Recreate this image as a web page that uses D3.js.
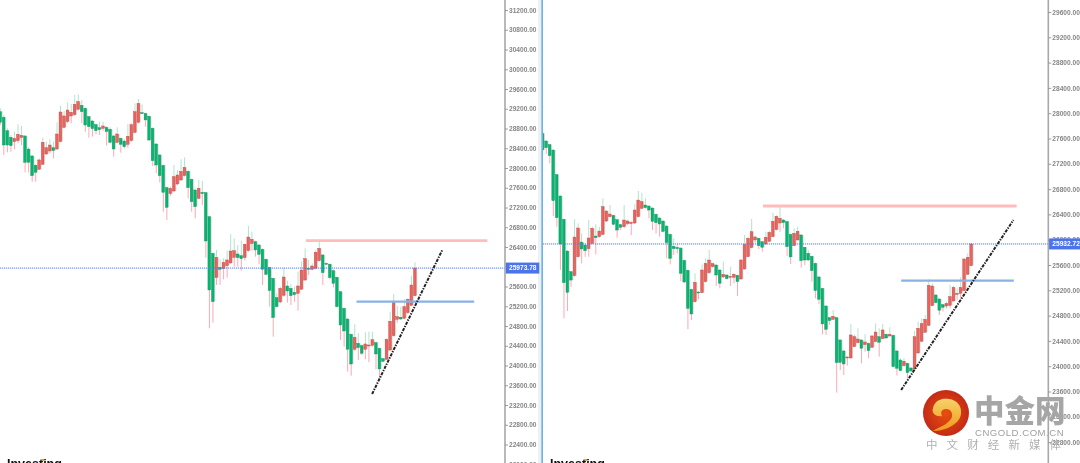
<!DOCTYPE html>
<html><head><meta charset="utf-8">
<style>html,body{margin:0;padding:0;background:#fff;overflow:hidden}svg{display:block;filter:blur(0.35px)}</style>
<script src="https://cdnjs.cloudflare.com/ajax/libs/d3/7.8.5/d3.min.js"></script>
</head><body><div id="c"></div>
<script>
// LEFT PANEL
const leftDir="GGGGRRRGGGGRRRRGRRRRRRRGGGGGGRGGGRGGRRRRGGGGGGGGRRRRRGGGRGGGGRGRRRRGGRRRGGGGGGGRRGGGRRRGRRRGGGGGGGGGRGGRRRGGGRRRRGRRRR";
const leftTop=[29141,29027,28757,28622,28601,28682,28662,28649,28385,28244,28055,28163,28520,28412,28466,28412,28689,29135,29054,29175,29128,29290,29344,29270,29209,29040,28952,28878,28817,28851,28824,28784,28649,28689,28601,28547,28642,28878,29141,29310,29121,29107,29047,28804,28487,28264,28055,27602,27589,27825,27859,27933,28014,27933,27771,27555,27589,27508,27501,27015,26272,26192,25989,26090,26138,26320,26327,26259,26225,26455,26603,26556,26509,26441,26354,26151,25989,25766,25375,25564,25793,25611,25564,25483,25611,25935,26165,25969,26016,26293,26374,26239,26070,26050,25922,25787,25496,25159,24943,24632,24571,24450,24403,24437,24416,24524,24464,24349,24140,24531,24895,25280,24990,24977,25193,25341,25631,25973.78];
const leftBottom=[28925,28466,28466,28453,28534,28554,28615,28115,28115,27845,27913,27974,28075,28284,28345,28352,28385,28534,28824,28939,29054,29081,29189,29141,28871,28838,28797,28757,28777,28804,28736,28520,28385,28520,28480,28433,28480,28554,28723,28925,29107,28973,28567,28149,28061,27845,27508,27204,27481,27535,27677,27757,27845,27602,27319,27218,27386,27481,26522,25530,25294,25780,25949,25962,26023,26077,26192,26185,26165,26185,26327,26468,26340,26252,25949,25847,25517,24970,25193,25287,25422,25510,25415,25436,25462,25544,25732,25955,25949,25969,26124,25881,26050,25780,25665,25193,24821,24700,24329,24031,24329,24362,24248,24329,24396,24410,24234,23930,24086,24126,24315,24605,24936,24943,24956,25071,25220,25415];
const leftHigh=[29209,29074,28804,28669,28736,28885,28851,28669,28419,28264,28082,28196,28615,28534,28581,28534,28925,29263,29155,29330,29297,29479,29492,29378,29229,29054,28973,28905,28939,28939,28851,28824,28669,28824,28622,28581,28892,28905,29310,29398,29290,29121,29067,28824,28500,28284,28068,27622,27622,28061,27960,28176,28216,27960,27791,27569,27758,27737,27515,27028,26286,26340,26151,26171,26327,26657,26576,26441,26529,26475,26826,26711,26529,26462,26374,26171,26003,25780,25463,25598,25982,25719,25652,25598,25901,26104,26374,26138,26070,26340,26556,26259,26084,26070,25948,25800,25510,25172,24956,24652,24835,24652,24430,24673,24686,24686,24484,24369,24153,24551,25091,25449,25206,25193,25341,25361,25814,26090];
const leftLow=[28871,28264,28318,28331,28379,28500,28466,27913,27906,27724,27724,27960,28061,28264,28298,28196,28365,28520,28804,28905,28905,29054,29162,28905,28736,28615,28635,28682,28669,28757,28453,28500,28230,28500,28311,28399,28412,28534,28702,28905,29094,28838,28554,28041,27893,27710,27116,26948,27434,27515,27656,27744,27825,27386,27116,26981,27366,27251,26185,24754,24869,25631,25631,25746,25780,26057,26003,26003,25922,26124,26306,26327,26205,26050,25631,25827,25193,24585,25172,25260,25395,25274,25226,25294,25112,25530,25712,25834,25935,25949,26104,25631,26036,25746,25584,25172,24517,24382,23876,23795,24301,24113,24214,24126,24065,24382,23923,23755,24065,24113,24295,24585,24869,24923,24936,25044,25206,25402];
const leftTicks=[31200,30800,30400,30000,29600,29200,28800,28400,28000,27600,27200,26800,26400,25600,25200,24800,24400,24000,23600,23200,22800,22400,22000];
const leftLast=25973.78;
const leftResistance={price:26528,from:86.2,to:137.4};
const leftSupport={price:25294,from:100.5,to:133.7};
const leftTrend={from:[104.9,23424],to:[124.7,26340]};

// RIGHT PANEL
const rightDir="GGGGGGGGGRRGGRRGRRRRGGGRRRRRRGGGGGGGGGGGGGGRGRRRRGGRGRRGRRRRRGGRRRRRGGGRRGGGGGGGGGRGGGRRRRGRGRRGRGRGGGRGGRRRRRRGGGRRRRRRRR";
const rightTop=[27681,27560,27502,27418,27028,26691,26322,25821,25494,26042,26185,25963,25916,26027,26179,26058,26137,26522,26453,26406,26385,26316,26237,26311,26295,26274,26469,26627,26601,26548,26532,26501,26401,26343,26295,26216,26084,25895,25879,25868,25673,25515,25215,25326,25173,25521,25627,25679,25621,25600,25521,25453,25442,25421,25453,25437,25679,25927,26022,26127,26043,26022,25969,26038,26117,26291,26370,26338,26312,26285,26085,26101,26133,26075,25880,25785,25737,25627,25411,25231,24952,24768,24789,24768,24415,24241,24146,24494,24467,24430,24415,24383,24362,24478,24541,24467,24573,24504,24504,24488,24241,24098,24077,24046,23972,24467,24599,24673,24741,25279,25268,25126,25063,24973,24994,25100,25247,25152,25247,25695,25722,25932.72];
const rightBottom=[27418,27455,27328,26617,26348,25932,25320,25168,25362,25431,25731,25853,25826,25858,25942,26032,26048,26084,26295,26364,26243,26153,26195,26206,26253,26264,26264,26364,26496,26506,26469,26290,26269,26248,26132,25953,25705,25858,25858,25468,25331,24915,24825,25020,25162,25162,25337,25479,25574,25442,25311,25411,25384,25405,25405,25337,25379,25537,25732,25874,25996,25906,25880,25932,25975,26048,26159,26264,26270,25890,25727,25906,25996,25669,25679,25679,25511,25195,25058,24668,24583,24720,24741,24056,24061,24035,24130,24130,24309,24372,24283,24341,24246,24299,24388,24378,24436,24446,24478,23993,23967,23930,24009,23898,23925,23956,24209,24394,24536,24646,24957,25005,24884,24931,24952,24963,25031,25142,25152,25195,25453,25590];
const rightHigh=[27692,27576,27513,27428,27038,26701,26332,25832,25505,26322,26258,26100,25942,26311,26206,26243,26206,26654,26469,26548,26395,26332,26248,26548,26322,26300,26564,26770,26743,26654,26548,26511,26416,26353,26311,26232,26100,26021,25942,25879,25684,25526,25226,25468,25183,25610,25706,25838,25637,25611,25532,25653,25453,25574,25469,25448,25695,26075,26048,26328,26059,26032,25980,26127,26143,26428,26386,26523,26322,26296,26096,26180,26206,26085,25890,25838,25748,25637,25421,25242,24963,24778,24889,24778,24425,24251,24156,24668,24504,24599,24425,24504,24372,24494,24678,24599,24668,24520,24615,24499,24251,24125,24125,24056,23982,24557,24704,24757,24810,25374,25311,25137,25073,24984,25021,25284,25268,25231,25405,25706,25785,25953];
const rightLow=[27407,27355,27207,26374,26206,25521,24756,24872,25257,25415,25716,25626,25731,25731,25926,25768,26032,26069,26279,26353,26227,26032,26153,26179,26232,26074,26248,26353,26480,26490,26337,26153,26100,26048,26116,25705,25610,25758,25784,25347,25315,24588,24730,25004,25057,25152,25321,25458,25558,25268,25231,25395,25374,25268,25311,25110,25368,25527,25722,25864,25953,25853,25811,25922,25964,26038,26148,26127,26180,25743,25616,25895,25985,25558,25600,25664,25337,25073,24984,24504,24494,24652,24731,23582,23940,23861,24009,24120,24299,24362,24046,24230,24125,24288,24378,24151,24425,24436,24467,23982,23851,23919,23993,23809,23909,23946,24198,24383,24525,24636,24947,24994,24810,24863,24915,24915,25021,25047,25073,25184,25442,25579];
const rightTicks=[29600,29200,28800,28400,28000,27600,27200,26800,26400,26000,25600,25200,24800,24400,24000,23600,23200,22800];
const rightLast=25932.72;
const rightResistance={price:26533,from:62.2,to:133.8};
const rightSupport={price:25353,from:101.2,to:133};
const rightTrend={from:[101.2,23624],to:[132.9,26312]};

const W=1080,H=463;
const svg=d3.select("#c").append("svg").attr("width",W).attr("height",H).style("background","#fff");
const defs=svg.append("defs");
const GREEN="#00b870",GREEN_E="#14905c",RED="#ee625c",RED_E="#bb4540",UPW="#b4e2cc",DNW="#fba9b6";

function panel(o){
  const x=d3.scaleLinear().domain(o.xDomain).range(o.xRange);
  const y=d3.scaleLinear().domain(o.yDomain).range(o.yRange);
  defs.append("clipPath").attr("id",o.id).append("rect").attr("x",o.clip[0]).attr("y",0).attr("width",o.clip[1]-o.clip[0]).attr("height",H);
  const g=svg.append("g").attr("clip-path",`url(#${o.id})`);
  const rows=Array.from(o.dir,(d,i)=>({i,d,t:o.top[i],b:o.bottom[i],h:o.high[i],l:o.low[i]}));
  const bw=3;
  g.selectAll("line.u").data(rows).join("line").attr("x1",d=>x(d.i)).attr("x2",d=>x(d.i)).attr("y1",d=>y(d.h)).attr("y2",d=>y(d.t)).attr("stroke",UPW).attr("stroke-width",1);
  g.selectAll("line.l").data(rows).join("line").attr("x1",d=>x(d.i)).attr("x2",d=>x(d.i)).attr("y1",d=>y(d.b)).attr("y2",d=>y(d.l)).attr("stroke",DNW).attr("stroke-width",1);
  g.selectAll("rect.s").data(rows).join("rect").attr("x",d=>x(d.i)-bw/2+.8).attr("width",bw).attr("y",d=>y(d.t)).attr("height",d=>Math.max(1,y(d.b)-y(d.t))).attr("fill","#a8a8a8").attr("opacity",.4);
  g.selectAll("rect.b").data(rows).join("rect").attr("x",d=>x(d.i)-bw/2).attr("width",bw-.4).attr("y",d=>y(d.t)).attr("height",d=>Math.max(1,y(d.b)-y(d.t)))
    .attr("fill",d=>d.d==="R"?RED:GREEN).attr("stroke",d=>d.d==="R"?RED_E:GREEN_E).attr("stroke-width",.4);
  svg.append("line").attr("x1",o.clip[0]).attr("x2",o.clip[1]).attr("y1",y(o.last)).attr("y2",y(o.last)).attr("stroke","#4f7cf5").attr("stroke-width",1).attr("stroke-dasharray","1.2 .8");
  svg.append("line").attr("x1",x(o.res.from)).attr("x2",x(o.res.to)).attr("y1",y(o.res.price)).attr("y2",y(o.res.price)).attr("stroke","#ffbcbc").attr("stroke-width",2.8);
  svg.append("line").attr("x1",x(o.sup.from)).attr("x2",x(o.sup.to)).attr("y1",y(o.sup.price)).attr("y2",y(o.sup.price)).attr("stroke","#88b1e6").attr("stroke-width",2.4);
  svg.append("line").attr("x1",x(o.trend.from[0])).attr("x2",x(o.trend.to[0])).attr("y1",y(o.trend.from[1])).attr("y2",y(o.trend.to[1])).attr("stroke","#222").attr("stroke-width",2).attr("stroke-dasharray","3.2 1.2 1.4 1.2");
  const ax=svg.append("g").attr("transform",`translate(${o.axisX},0)`).call(d3.axisRight(y).tickValues(o.ticks).tickFormat(d3.format(".2f")).tickSize(3).tickPadding(o.pad).tickSizeOuter(0));
  ax.select(".domain").attr("stroke","#a8a8a8").attr("stroke-width",1.6).attr("d",`M0,0V${H}`);
  ax.selectAll("line").attr("stroke","#888").attr("stroke-width",.8);
  ax.selectAll("text").attr("font-family","Liberation Sans").attr("font-size",6.6).attr("font-weight",700).attr("fill","#868686");
  const ly=y(o.last);
  svg.append("rect").attr("x",o.axisX+.8).attr("y",ly-5.5).attr("width",o.boxW).attr("height",11).attr("fill","#4c74ea");
  svg.append("text").attr("x",o.axisX+o.pad+3).attr("y",ly+2.4).attr("font-family","Liberation Sans").attr("font-size",6.6).attr("font-weight",700).attr("fill","#fff").text(d3.format(".2f")(o.last));
  svg.append("text").attr("x",o.brandX).attr("y",468).attr("font-family","Liberation Sans").attr("font-size",12.5).attr("font-weight",700).attr("fill","#111").text("Investing");
  svg.append("circle").attr("cx",o.brandX+36).attr("cy",460).attr("r",1.2).attr("fill","#f0a020");
}

svg.append("rect").attr("x",538).attr("y",0).attr("width",3.7).attr("height",H).attr("fill","#eef0f4");
svg.append("rect").attr("x",541.4).attr("y",0).attr("width",1.5).attr("height",H).attr("fill","#5aaede");

panel({id:"cl",dir:leftDir,top:leftTop,bottom:leftBottom,high:leftHigh,low:leftLow,ticks:leftTicks,last:leftLast,res:leftResistance,sup:leftSupport,trend:leftTrend,
  xDomain:[0,117],xRange:[0.3,415],yDomain:[31200,22000],yRange:[10,464.3],clip:[0,505],axisX:505,pad:1,boxW:33.5,brandX:7});
panel({id:"cr",dir:rightDir,top:rightTop,bottom:rightBottom,high:rightHigh,low:rightLow,ticks:rightTicks,last:rightLast,res:rightResistance,sup:rightSupport,trend:rightTrend,
  xDomain:[0,121],xRange:[542.7,971.3],yDomain:[29600,22400],yRange:[12,467.4],clip:[543,1048],axisX:1048.3,pad:1,boxW:31,brandX:550});

const grad=defs.append("radialGradient").attr("id","wm");
grad.append("stop").attr("offset","0%").attr("stop-color","#e8500f");
grad.append("stop").attr("offset","100%").attr("stop-color","#c42a16");
const yg=defs.append("linearGradient").attr("id","wy").attr("x1",0).attr("y1",0).attr("x2",0).attr("y2",1);
yg.append("stop").attr("offset","0%").attr("stop-color","#f7d26a");
yg.append("stop").attr("offset","100%").attr("stop-color","#f09a18");
const wm=svg.append("g");
wm.append("circle").attr("cx",946).attr("cy",413).attr("r",23).attr("fill","url(#wm)");
wm.append("path").attr("transform","translate(946,413)").attr("fill","url(#wy)")
  .attr("d","M-13,-5C-11,-13 -4,-15 3,-14C11,-13 16,-7 15,1C14,8 8,12 2,15C-3,17 -8,18 -13,18C-7,14 1,12 5,6C8,1 5,-4 0,-4C-4,-4 -6,-1 -4,3C-9,4 -15,1 -13,-5Z");
const cjk="Noto Sans CJK SC";
wm.append("text").attr("x",974).attr("y",422).attr("font-family",cjk).attr("font-size",30.5).attr("font-weight",900).attr("fill","#a6a6a6").text("中金网");
wm.append("text").attr("x",975).attr("y",436).attr("font-family","Liberation Sans").attr("font-size",9.6).attr("letter-spacing",.5).attr("fill","#a0a0a0").text("CNGOLD.COM.CN");
wm.append("text").attr("x",926).attr("y",449).attr("font-family",cjk).attr("font-size",11.5).attr("letter-spacing",9.1).attr("fill","#b0b0b0").text("中文财经新媒体");
</script></body></html>
